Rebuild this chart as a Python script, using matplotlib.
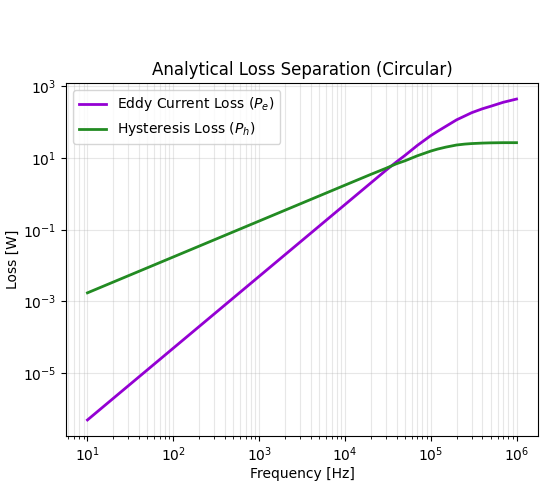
import matplotlib
matplotlib.use("Agg")
import matplotlib.pyplot as plt

freq = [1e1, 1e2, 1e3, 1e4, 2e4, 3e4, 4e4, 5e4, 7e4, 1e5, 1.2e5, 1.5e5, 2e5, 2.5e5, 3e5, 4e5, 5e5, 7e5, 1e6]
eddy_loss = [5.0e-7, 5.0e-5, 5.0e-3, 0.50, 2.0, 4.5, 7.8, 11.7, 22.4, 41.7, 55, 75.9, 115, 148, 182, 234, 275, 355, 437]
hyst_loss = [1.74e-3, 1.74e-2, 0.174, 1.74, 3.47, 5.13, 6.9, 8.3, 11.5, 15.5, 17.6, 20.0, 22.9, 24.3, 25.1, 25.9, 26.3, 26.6, 26.6]

fig = plt.figure(figsize=(5.46, 4.87), dpi=100)
ax = fig.add_axes([66/546, 1-436/487, (538-66)/546, (436-83)/487])
ax.loglog(freq, eddy_loss, color='darkviolet', lw=2, label='Eddy Current Loss ($P_e$)')
ax.loglog(freq, hyst_loss, color='forestgreen', lw=2, label='Hysteresis Loss ($P_h$)')
ax.set_xlabel('Frequency [Hz]', labelpad=2)
ax.set_ylabel('Loss [W]', labelpad=2)
ax.set_title('Analytical Loss Separation (Circular)')
ax.grid(True, which='both', alpha=0.3)
ax.legend(loc='upper left')
fig.savefig('out.png', dpi=100)
